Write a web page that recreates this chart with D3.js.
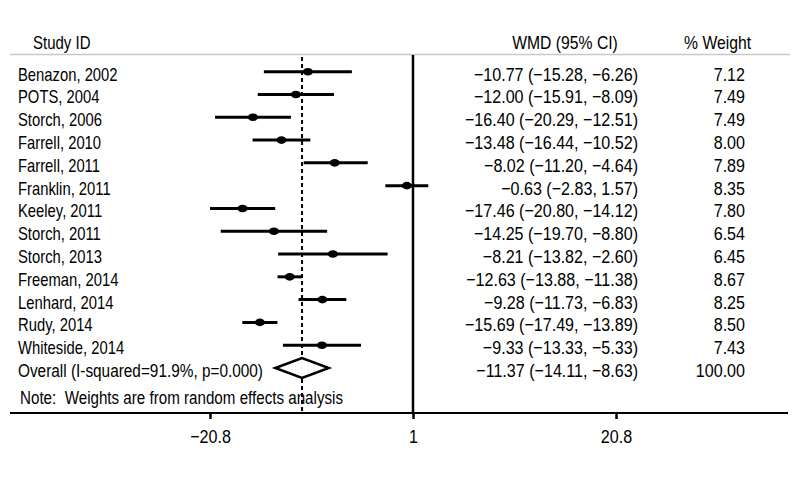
<!DOCTYPE html>
<html>
<head>
<meta charset="utf-8">
<script src="https://cdn.jsdelivr.net/npm/d3@7"></script>
<style>
  body { margin: 0; background: #fff; }
  svg text { font-family: "Liberation Sans", Arial, sans-serif; font-size: 18.5px; fill: #000; white-space: pre; }
</style>
</head>
<body>
<svg id="chart" width="800" height="480"></svg>
<script>
// study data
var studies = ["Benazon, 2002", "POTS, 2004", "Storch, 2006", "Farrell, 2010", "Farrell, 2011",
  "Franklin, 2011", "Keeley, 2011", "Storch, 2011", "Storch, 2013", "Freeman, 2014",
  "Lenhard, 2014", "Rudy, 2014", "Whiteside, 2014"];
var wmd = [-10.77, -12.00, -16.40, -13.48, -8.02, -0.63, -17.46, -14.25, -8.21, -12.63, -9.28, -15.69, -9.33];
var lower = [-15.28, -15.91, -20.29, -16.44, -11.20, -2.83, -20.80, -19.70, -13.82, -13.88, -11.73, -17.49, -13.33];
var upper = [-6.26, -8.09, -12.51, -10.52, -4.64, 1.57, -14.12, -8.80, -2.60, -11.38, -6.83, -13.89, -5.33];
var weights = [7.12, 7.49, 7.49, 8.00, 7.89, 8.35, 7.80, 6.54, 6.45, 8.67, 8.25, 8.50, 7.43];

// overall
var overallLabel = "Overall (I-squared=91.9%, p=0.000)";
var overall = [-11.37, -14.11, -8.63];
var overallWeight = 100.00;

// axis ticks
var tickValues = [-20.8, 0, 20.8];
var tickLabels = ["\u221220.8", "1", "20.8"];

var svg = d3.select("#chart");

var x = d3.scaleLinear().domain([-20.8, 20.8]).range([210, 616]);
var y = d3.scaleLinear().domain([0, 13]).range([71.7, 368]);

function fmt(v) {
  return v < 0 ? "\u2212" + Math.abs(v).toFixed(2) : v.toFixed(2);
}

// condensed text: squeeze horizontally around the anchor point
function label(parent, tx, ty, str, anchor, sx) {
  return parent.append("text")
    .attr("transform", "translate(" + tx + "," + ty + ") scale(" + (sx || 0.81) + ",1)")
    .attr("text-anchor", anchor || "start")
    .text(str);
}

// headers
label(svg, 33, 49, "Study ID");
label(svg, 565, 49, "WMD (95% CI)", "middle", 0.85);
label(svg, 751, 49, "% Weight", "end", 0.85);

svg.append("line").attr("x1", 10).attr("x2", 790).attr("y1", 54.5).attr("y2", 54.5)
  .attr("stroke", "#c8c8c8").attr("stroke-width", 1.5);

// null line
svg.append("line").attr("x1", x(0)).attr("x2", x(0)).attr("y1", 55).attr("y2", 413)
  .attr("stroke", "#000").attr("stroke-width", 2.5);

// overall dashed line
svg.append("line").attr("x1", x(overall[0])).attr("x2", x(overall[0])).attr("y1", 57).attr("y2", 413)
  .attr("stroke", "#000").attr("stroke-width", 2).attr("stroke-dasharray", "4,3");

// study rows
studies.forEach(function(d, i) {
  var g = svg.append("g").attr("class", "row");
  var ry = y(i);
  label(g, 18, ry + 9, d, "start", 0.8);
  g.append("line")
    .attr("x1", x(lower[i])).attr("x2", x(upper[i]))
    .attr("y1", ry).attr("y2", ry)
    .attr("stroke", "#000").attr("stroke-width", 3);
  g.append("ellipse")
    .attr("cx", x(wmd[i])).attr("cy", ry)
    .attr("rx", 5).attr("ry", 3.8).attr("fill", "#000");
  label(g, 638, ry + 9, fmt(wmd[i]) + " (" + fmt(lower[i]) + ", " + fmt(upper[i]) + ")", "end", 0.87);
  label(g, 745, ry + 9, weights[i].toFixed(2), "end", 0.87);
});

// overall row
var oy = y(13);
label(svg, 18, oy + 9, overallLabel, "start", 0.83);
svg.append("path")
  .attr("d", "M" + x(overall[1]) + "," + oy + "L" + x(overall[0]) + "," + (oy - 10) +
    "L" + x(overall[2]) + "," + oy + "L" + x(overall[0]) + "," + (oy + 10) + "Z")
  .attr("fill", "#fff").attr("stroke", "#000").attr("stroke-width", 2.5);
label(svg, 638, oy + 9, fmt(overall[0]) + " (" + fmt(overall[1]) + ", " + fmt(overall[2]) + ")", "end", 0.87);
label(svg, 745, oy + 9, overallWeight.toFixed(2), "end", 0.87);

label(svg, 20, 404, "Note:  Weights are from random effects analysis", "start", 0.82);

// x axis
svg.append("line").attr("x1", 10).attr("x2", 788).attr("y1", 413).attr("y2", 413)
  .attr("stroke", "#000").attr("stroke-width", 2);

var axis = d3.axisBottom(x).tickValues(tickValues).tickSize(6)
  .tickFormat(function(d, i) { return tickLabels[i]; });
var ax = svg.append("g").attr("transform", "translate(0,413)").call(axis);
ax.select(".domain").remove();
ax.selectAll(".tick line").attr("stroke", "#000").attr("stroke-width", 2.5);
ax.selectAll(".tick text")
  .attr("font-family", null).attr("font-size", null).attr("fill", null)
  .attr("y", null).attr("dy", null)
  .attr("transform", "translate(0,30) scale(0.87,1)");
</script>
</body>
</html>
